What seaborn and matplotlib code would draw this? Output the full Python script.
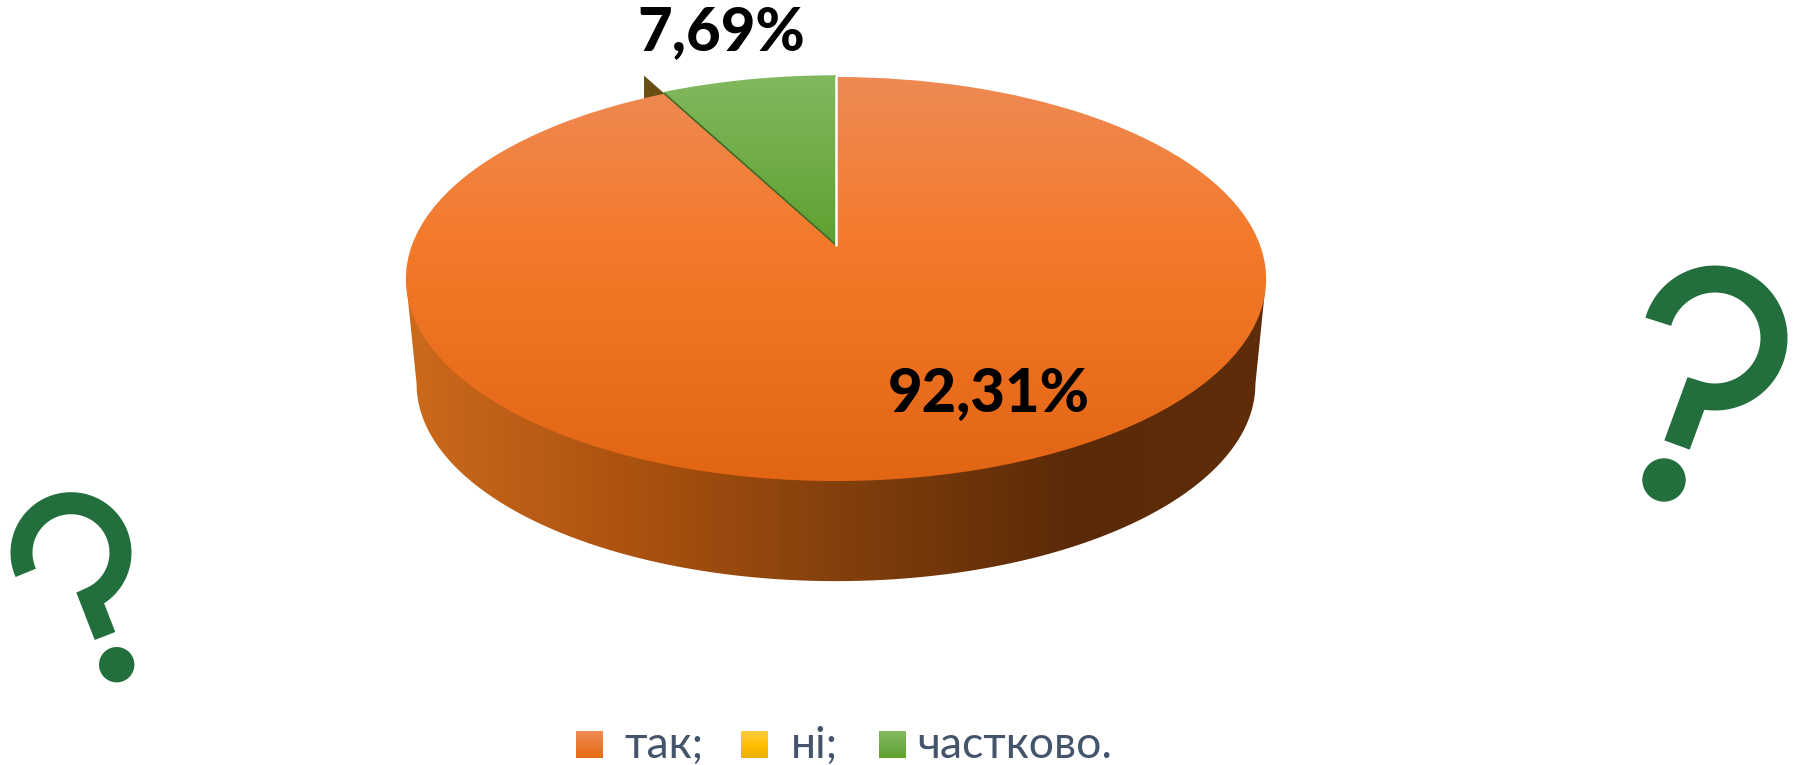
# 3D looking pie, top face is a normal ax.pie pushed through a perspective transform
import numpy as np
import seaborn as sns
import matplotlib
matplotlib.use("Agg")
import matplotlib.pyplot as plt
from matplotlib.colors import LinearSegmentedColormap
from matplotlib.patches import Circle, Polygon
from matplotlib.transforms import Transform

categories = ["так;", "ні;", "частково."]
values = [92.31, 0, 7.69]

sns.set_theme(style="white")
plt.rcParams["font.family"] = ["Lato", "DejaVu Sans"]

# perspective of the disc, in pixels
APEX_X, APEX_Y = 836, 245
SX, SY, K = 424.0, 196.3, 0.1683
GREEN_Q = "#236E3D"


def project(x, y, q=1.0, apex_y=APEX_Y):
    w = 1 + K * y
    return APEX_X + SX * q * x / w, apex_y - SY * q * y / w


class Tilt(Transform):
    input_dims = 2
    output_dims = 2

    def transform_non_affine(self, values):
        xs, ys = project(values[:, 0], values[:, 1])
        return np.column_stack([xs, ys])


def gradient(ax, stops, clip, y0, y1, horizontal=False, x0=0, x1=1795, zorder=2):
    cmap = LinearSegmentedColormap.from_list("g", stops)
    ramp = np.linspace(0, 1, 256)
    ramp = ramp.reshape(1, -1) if horizontal else ramp.reshape(-1, 1)
    im = ax.imshow(ramp, cmap=cmap, extent=(x0, x1, y1, y0), origin="upper", vmin=0, vmax=1,
                   aspect="auto", interpolation="bilinear", zorder=zorder)
    if clip is not None:
        im.set_clip_path(clip)
    return im


def question(ax, cx, cy, r, a0, a1, end, width, dot, dot_r):
    a = np.radians(np.linspace(a0, a1, 80))
    xs = list(cx + r * np.cos(a)) + [end[0]]
    ys = list(cy - r * np.sin(a)) + [end[1]]
    ax.plot(xs, ys, color=GREEN_Q, lw=width * 0.72, solid_joinstyle="miter", solid_capstyle="butt")
    ax.add_patch(Circle(dot, dot_r, color=GREEN_Q, lw=0))


fig = plt.figure(figsize=(17.95, 7.65), dpi=100)
ax = fig.add_axes([0, 0, 1, 1])

start = 90 + values[2] * 3.6
wedges, _ = ax.pie(values, startangle=start, counterclock=True)
tilt = Tilt() + ax.transData
for w in wedges:
    w.set_transform(tilt)
    w.set_facecolor("none")
    w.set_edgecolor("none")
wedges[2].set_radius(1.012)

# side wall
wide = np.degrees(np.arcsin(K))
th = np.radians(np.linspace(180 + wide, 360 - wide, 160))
lx, ly = project(np.cos(th), np.sin(th), q=0.975, apex_y=351)
ux, uy = project(np.cos(th[[-1, 0]]), np.sin(th[[-1, 0]]))
wall = Polygon(np.column_stack([np.r_[lx, ux], np.r_[ly, uy]]), closed=True, fc="none", ec="none")
ax.add_patch(wall)
gradient(ax, [(0, "#CC6A1C"), (0.25, "#AD5310"), (0.5, "#84400C"), (0.78, "#5A2A08"), (1, "#5F2D0A")],
         wall, 260, 600, horizontal=True, x0=406, x1=1265, zorder=1)

# brown sliver behind the green slice
edge = np.radians(start)
tip = project(1.14 * np.cos(edge), 1.14 * np.sin(edge))
rim = project(np.cos(edge), np.sin(edge))
ax.add_patch(Polygon([tip, rim, (tip[0], rim[1] + 14)], closed=True, fc="#6B4E16", ec="none", zorder=1.5))

# top faces
gradient(ax, [(0, "#82B95F"), (1, "#5EA030")], wedges[2], 72, 245, zorder=2)
gradient(ax, [(0, "#EE8A55"), (0.41, "#F47A2B"), (1, "#E26513")], wedges[0], 74, 482, zorder=3)
ax.plot([0, np.cos(edge)], [0, np.sin(edge)], transform=tilt, color="#3F6A24", lw=1.2, zorder=4)
ax.plot([0, 0], [0, 1], transform=tilt, color="white", lw=1.8, zorder=4)

# data labels
labels = [f"{v:.2f}%".replace(".", ",") for v in values]
ax.text(989, 393, labels[0], ha="center", va="center", fontsize=43, fontweight="black", color="black", zorder=5)
ax.text(721, 32, labels[2], ha="center", va="center", fontsize=43, fontweight="black", color="black", zorder=5)

# legend
swatch_x = [576, 741, 879]
text_x = [624, 791, 917]
swatch_colors = [[(0, "#F08C52"), (1, "#E66A14")],
                 [(0, "#FFCB45"), (0.5, "#FFC000"), (1, "#EBB000")],
                 [(0, "#84BA62"), (1, "#5EA030")]]
for sx, tx, name, stops in zip(swatch_x, text_x, categories, swatch_colors):
    gradient(ax, stops, None, 731, 758, x0=sx, x1=sx + 27, zorder=2)
    ax.text(tx, 745, name, ha="left", va="center", fontsize=32, color="#44546A")

# question marks
question(ax, 1715, 338, 59, 164, -109, (1677, 445), 27, (1664, 480), 21.7)
question(ax, 71, 552.7, 49.5, 204, -67, (105, 636), 22, (116.7, 664.7), 17.7)

ax.set_aspect("auto")
ax.set_xlim(0, 1795)
ax.set_ylim(765, 0)
ax.axis("off")

fig.savefig("out.png", dpi=100)
